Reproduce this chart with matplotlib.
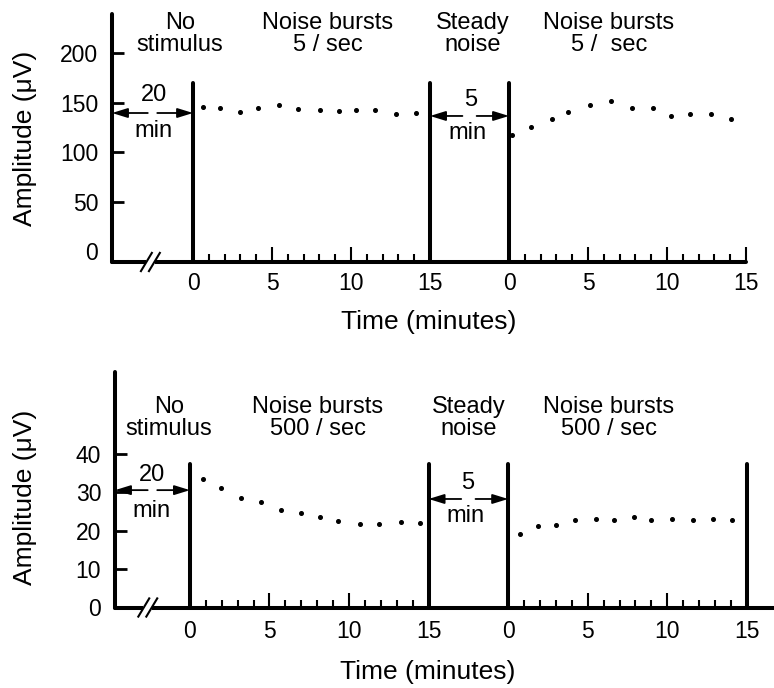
import matplotlib
matplotlib.use("Agg")
import matplotlib.pyplot as plt
import matplotlib.transforms as mtransforms
from matplotlib.patches import Polygon

plt.rcParams['font.family'] = ['Liberation Sans', 'DejaVu Sans']

W, H, DPI = 774, 688, 100

# ---------------- data ----------------
# time (minutes within each stimulus period) and amplitude (uV)
top_pre_t = [0.64, 1.69, 2.98, 4.14, 5.44, 6.64, 8.02, 9.25, 10.33, 11.5, 12.86, 14.13]
top_pre_amp = [145.8, 144.7, 140.0, 144.7, 147.8, 143.4, 142.4, 141.1, 142.7, 142.7, 138.0, 139.0]
top_post_t = [0.17, 1.42, 2.71, 3.76, 5.1, 6.43, 7.76, 9.1, 10.24, 11.48, 12.79, 14.02]
top_post_amp = [117.0, 125.0, 133.3, 140.1, 147.8, 151.2, 144.7, 144.7, 136.4, 138.1, 138.1, 133.0]

bot_pre_t = [0.83, 1.96, 3.22, 4.48, 5.71, 7.01, 8.16, 9.33, 10.67, 11.91, 13.26, 14.44]
bot_pre_amp = [33.5, 31.1, 28.5, 27.5, 25.3, 24.6, 23.6, 22.4, 21.8, 21.8, 22.3, 21.9]
bot_post_t = [0.75, 1.89, 3.0, 4.21, 5.52, 6.63, 7.88, 9.0, 10.27, 11.61, 12.89, 14.08]
bot_post_amp = [19.0, 21.1, 21.4, 22.7, 22.9, 22.8, 23.5, 22.8, 23.0, 22.7, 22.9, 22.7]

period_len = 15          # minutes per stimulus period
steady_len = 5           # steady-noise interval
pre_len = 20             # no-stimulus interval (broken axis)

x_tick_pos = [0, 5, 10, 15, 20, 25, 30, 35]
x_tick_labels = ['0', '5', '10', '15', '0', '5', '10', '15']

top_yticks = [0, 50, 100, 150, 200]
bot_yticks = [0, 10, 20, 30, 40]

top_labels = ["No\nstimulus", "Noise bursts\n5 / sec", "Steady\nnoise", "Noise bursts\n5 /  sec"]
bot_labels = ["No\nstimulus", "Noise bursts\n500 / sec", "Steady\nnoise", "Noise bursts\n500 / sec"]

ylabel = "Amplitude (\u03bcV)"
xlabel = "Time (minutes)"

# ---------------- figure ----------------
fig = plt.figure(figsize=(W / DPI, H / DPI), dpi=DPI)

def ax_px(l, r, b, t):
    return fig.add_axes([l / W, 1 - b / H, (r - l) / W, (b - t) / H])

def ftext(px, py, s, size=17, **kw):
    fig.text(px / W, 1 - py / H, s, ha='center', va='center', fontsize=size,
             linespacing=1.05, **kw)

LW = 2.9

def panel(ax, xlim, ylim, yticks, bar_x, bar_top, pre_t, pre_a, post_t, post_a,
          arr1_y, arr2_y, brk_x, xpad):
    ax.set_xlim(*xlim)
    ax.set_ylim(*ylim)
    for s in ['top', 'right']:
        ax.spines[s].set_visible(False)
    for s in ['left', 'bottom']:
        ax.spines[s].set_linewidth(LW)
        ax.spines[s].set_capstyle('round')
    ax.patch.set_visible(False)

    # x ticks
    ax.set_xticks(x_tick_pos)
    ax.set_xticklabels(x_tick_labels)
    minors = [m for m in range(1, period_len) if m % 5] + \
             [pre_len + m for m in range(1, period_len) if m % 5]
    ax.set_xticks(minors, minor=True)
    ax.tick_params(axis='x', which='major', direction='in', length=10.8, width=1.5,
                   pad=xpad, labelsize=16.5)
    ax.tick_params(axis='x', which='minor', direction='in', length=5.8, width=1.5)
    # y ticks
    ax.set_yticks(yticks)
    ax.tick_params(axis='y', which='major', direction='in', length=8.6, width=2.0,
                   pad=10, labelsize=16.5)
    ax.yaxis.get_major_ticks()[0].tick1line.set_visible(False)

    # thick vertical bars marking stimulus changes
    ax.vlines(bar_x, ylim[0], bar_top, colors='k', linewidth=LW,
              capstyle='round', zorder=4, clip_on=False)

    # data points
    ax.plot(pre_t, pre_a, 'o', color='k', markersize=2.6, zorder=5, clip_on=False)
    ax.plot([pre_len + t for t in post_t], post_a, 'o', color='k', markersize=2.6,
            zorder=3, clip_on=False)

    # double-headed arrows with a gap in the middle
    hd = dict(arrowstyle='-|>,head_length=0.55,head_width=0.17', color='k', lw=1.3,
              shrinkA=0, shrinkB=0, mutation_scale=17)
    def darrow(x0, x1, y, gap):
        mid = (x0 + x1) / 2
        ax.annotate('', xy=(x0, y), xytext=(mid - gap, y), arrowprops=hd,
                    annotation_clip=False)
        ax.annotate('', xy=(x1, y), xytext=(mid + gap, y), arrowprops=hd,
                    annotation_clip=False)
    darrow(xlim[0], 0, arr1_y, 0.3)
    darrow(period_len, period_len + steady_len, arr2_y, 0.45)

    # axis break mark
    tr = mtransforms.Affine2D() + mtransforms.ScaledTranslation(brk_x, ylim[0], ax.transData)
    ax.add_patch(Polygon([(-4.5, -3.5), (4.5, -3.5), (4.5, 3.5), (-4.5, 3.5)],
                         closed=True, facecolor='white', edgecolor='none',
                         transform=tr, zorder=6, clip_on=False))
    for dx in (-4, 4):
        ax.plot([dx - 6, dx + 6], [-10, 10], color='k', lw=1.5, transform=tr,
                zorder=7, clip_on=False, solid_capstyle='butt')

# ---- top panel ----
axt = ax_px(112, 746, 262, 14)
panel(axt, (-5.13, 35.0), (-11.1, 239.4), top_yticks, [0, 15, 20], 170,
      top_pre_t, top_pre_amp, top_post_t, top_post_amp, 139.4, 136.4, -2.7, 7)
axt.set_ylabel(ylabel, fontsize=19)
axt.yaxis.set_label_coords(25 / W, 1 - 138 / H, transform=fig.transFigure)
axt.yaxis.label.set_va('center')
axt.set_xlabel(xlabel, fontsize=19)
axt.xaxis.set_label_coords(429 / W, 1 - 322 / H, transform=fig.transFigure)
axt.xaxis.label.set_va('center')

# ---- bottom panel ----
axb = ax_px(115, 774, 607.5, 372)
panel(axb, (-4.71, 36.71), (0, 61.2), bot_yticks, [0, 15, 20, 35], 37.3,
      bot_pre_t, bot_pre_amp, bot_post_t, bot_post_amp, 30.5, 28.2, -2.65, 9)
axb.set_ylabel(ylabel, fontsize=19)
axb.yaxis.set_label_coords(25 / W, 1 - 497 / H, transform=fig.transFigure)
axb.yaxis.label.set_va('center')
axb.set_xlabel(xlabel, fontsize=19)
axb.xaxis.set_label_coords(428 / W, 1 - 672 / H, transform=fig.transFigure)
axb.xaxis.label.set_va('center')

# ---- condition labels ----
top_lab_px = [(180, 34), (328, 34), (473, 34), (609, 34)]
bot_lab_px = [(169, 418), (318, 418), (469, 418), (609, 418)]
for (px, py), s in zip(top_lab_px, top_labels):
    ftext(px, py, s)
for (px, py), s in zip(bot_lab_px, bot_labels):
    ftext(px, py, s)

# arrow annotations
ftext(154, 95, "20"); ftext(154, 131, "min")
ftext(471, 100, "5"); ftext(468, 133, "min")
ftext(152, 475, "20"); ftext(151, 511, "min")
ftext(468, 483, "5"); ftext(466, 516, "min")

fig.savefig("out.png", dpi=DPI)
